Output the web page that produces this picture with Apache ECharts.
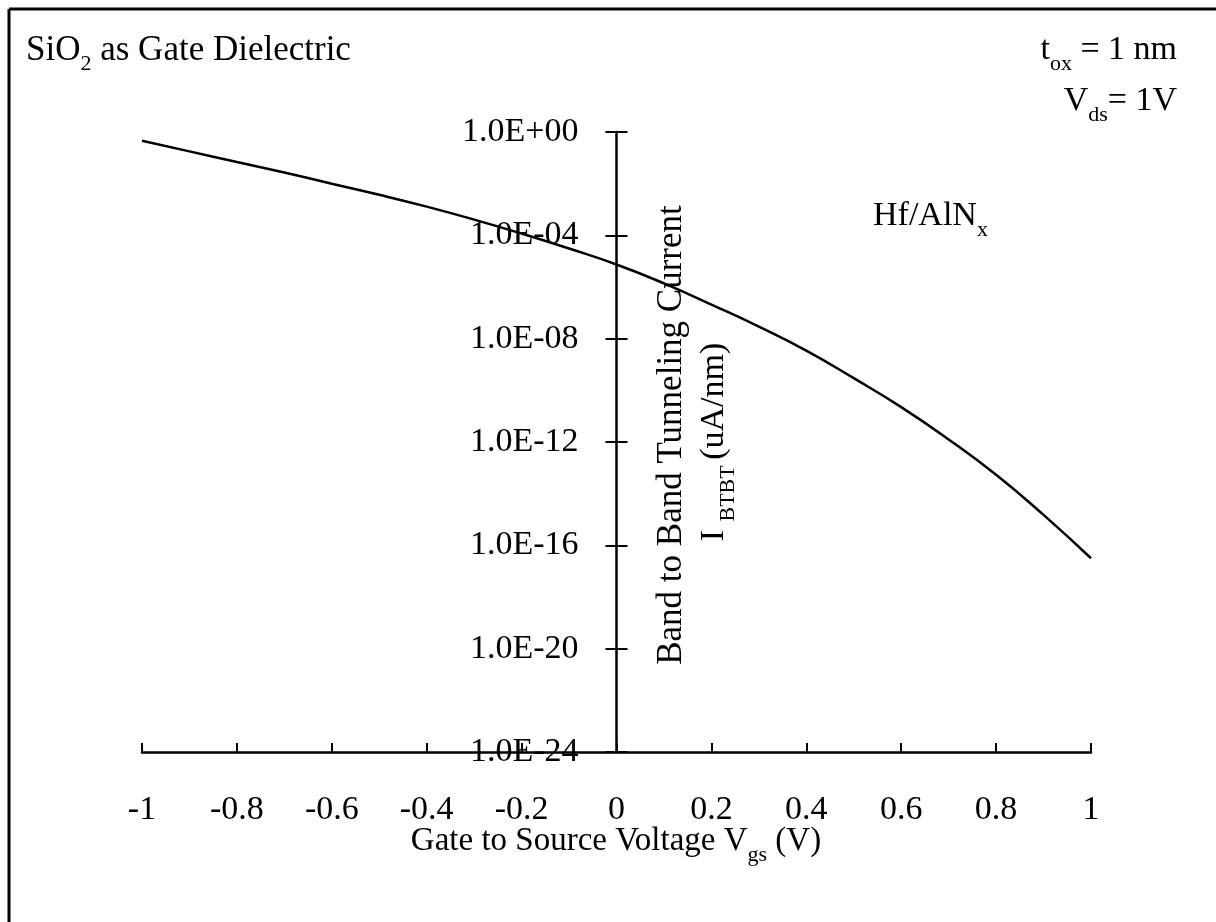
<!DOCTYPE html>
<html>
<head>
<meta charset="utf-8">
<script src="https://cdn.jsdelivr.net/npm/echarts@6/dist/echarts.min.js"></script>
<style>
  html, body { margin: 0; padding: 0; background: #ffffff; }
  #chart { width: 1216px; height: 922px; }
</style>
</head>
<body>
<div id="chart"></div>
<script>
// Gate-to-source voltage sweep (V) and band-to-band tunneling current (uA/nm)
const gateVoltage = [-1.0, -0.9, -0.8, -0.7, -0.6, -0.5, -0.4, -0.3, -0.2, -0.1,
                      0.0, 0.1, 0.2, 0.3, 0.4, 0.5, 0.6, 0.7, 0.8, 0.9, 1.0];
const btbtCurrent = [4.57e-1, 1.78e-1, 6.92e-2, 2.69e-2, 1.00e-2, 3.72e-3, 1.29e-3, 4.07e-4, 1.17e-4, 3.09e-5,
                     7.41e-6, 1.38e-6, 2.09e-7, 2.95e-8, 3.47e-9, 2.95e-10, 2.24e-11, 1.26e-12, 5.37e-14, 1.51e-15, 3.16e-17];

const xTickLabels = ['-1', '-0.8', '-0.6', '-0.4', '-0.2', '0', '0.2', '0.4', '0.6', '0.8', '1'];
const yTickLabels = ['1.0E-24', '1.0E-20', '1.0E-16', '1.0E-12', '1.0E-08', '1.0E-04', '1.0E+00'];

const FONT = '"Liberation Serif", "Times New Roman", serif';
const INK = '#000000';

// The current axis is logarithmic: it runs in decades (exponent of ten)
const DECADE_MIN = -24, DECADE_MAX = 0, DECADE_STEP = 4;

// Plot area; the current axis crosses the voltage axis at Vgs = 0
const GRID = { left: 142, right: 125, top: 132, bottom: 170 };
const PLOT_WIDTH = 1216 - GRID.left - GRID.right;
const Y_AXIS_SHIFT = -PLOT_WIDTH / 2;   // moves the current axis from the left edge to Vgs = 0

function makeRich(size) {
  return {
    m: { fontSize: size, lineHeight: size, fontFamily: FONT, color: INK, verticalAlign: 'top' },
    s: { fontSize: 22, lineHeight: 22, fontFamily: FONT, color: INK, verticalAlign: 'top', padding: [20, 0, 0, 0] }
  };
}

function richText(x, y, text, align, rotation, size) {
  return {
    type: 'text',
    x: x,
    y: y,
    rotation: rotation || 0,
    silent: true,
    style: {
      x: 0, y: 0,
      text: text,
      rich: makeRich(size || 34),
      align: align, textAlign: align,
      verticalAlign: 'top', textVerticalAlign: 'top'
    }
  };
}

const labelFont = { fontSize: 34, fontFamily: FONT, color: INK };

const chart = echarts.init(document.getElementById('chart'), null, { renderer: 'canvas' });

chart.setOption({
  backgroundColor: '#ffffff',
  animation: false,
  grid: Object.assign({ containLabel: false, outerBoundsMode: 'none' }, GRID),
  xAxis: {
    type: 'value',
    min: -1, max: 1, interval: 0.2,
    axisLine: { onZero: false, lineStyle: { color: INK, width: 2.5 } },
    axisTick: { inside: true, length: 9, lineStyle: { color: INK, width: 2 } },
    axisLabel: Object.assign({
      margin: 41,
      showMinLabel: true, showMaxLabel: true,
      formatter: function (v) { return xTickLabels[Math.round((v + 1) / 0.2)]; }
    }, labelFont),
    splitLine: { show: false }
  },
  yAxis: [
    {
      type: 'value',
      position: 'left',
      offset: Y_AXIS_SHIFT,
      min: DECADE_MIN, max: DECADE_MAX, interval: DECADE_STEP,
      axisLine: { onZero: false, lineStyle: { color: INK, width: 2.5 } },
      axisTick: { inside: false, length: 11, lineStyle: { color: INK, width: 2 } },
      axisLabel: Object.assign({
        margin: 38,
        showMinLabel: true, showMaxLabel: true,
        formatter: function (v) { return yTickLabels[Math.round((v - DECADE_MIN) / DECADE_STEP)]; }
      }, labelFont),
      splitLine: { show: false }
    },
    {
      // inner half of the crossing tick marks on the current axis
      type: 'value',
      position: 'left',
      offset: Y_AXIS_SHIFT,
      min: DECADE_MIN, max: DECADE_MAX, interval: DECADE_STEP,
      axisLine: { show: false, onZero: false },
      axisTick: { inside: true, length: 11, lineStyle: { color: INK, width: 2 } },
      axisLabel: { show: false },
      splitLine: { show: false }
    }
  ],
  series: [
    {
      name: 'Hf/AlNx',
      type: 'line',
      yAxisIndex: 0,
      data: gateVoltage.map(function (v, i) { return [v, Math.log10(btbtCurrent[i])]; }),
      smooth: true,
      showSymbol: false,
      lineStyle: { color: INK, width: 2.5 },
      z: 5
    }
  ],
  graphic: [
    // outer frame (top and left edges)
    { type: 'line', shape: { x1: 9, y1: 9, x2: 1216, y2: 9 }, style: { stroke: INK, lineWidth: 3 }, silent: true },
    { type: 'line', shape: { x1: 9, y1: 9, x2: 9, y2: 922 }, style: { stroke: INK, lineWidth: 3 }, silent: true },

    richText(26, 33, '{m|SiO}{s|2}{m| as Gate Dielectric}', 'left', 0, 35),
    richText(1177, 33.5, '{m|t}{s|ox}{m| = 1 nm}', 'right'),
    richText(1177, 84.5, '{m|V}{s|ds}{m|= 1V}', 'right'),
    richText(873, 199.5, '{m|Hf/AlN}{s|x}', 'left'),

    richText(616, 824.5, '{m|Gate to Source Voltage V}{s|gs}{m| (V)}', 'center', 0, 33),
    richText(654, 435, '{m|Band to Band Tunneling Current}', 'center', Math.PI / 2, 35),
    richText(697, 442, '{m|I }{s|BTBT }{m|(uA/nm)}', 'center', Math.PI / 2)
  ]
});
</script>
</body>
</html>
